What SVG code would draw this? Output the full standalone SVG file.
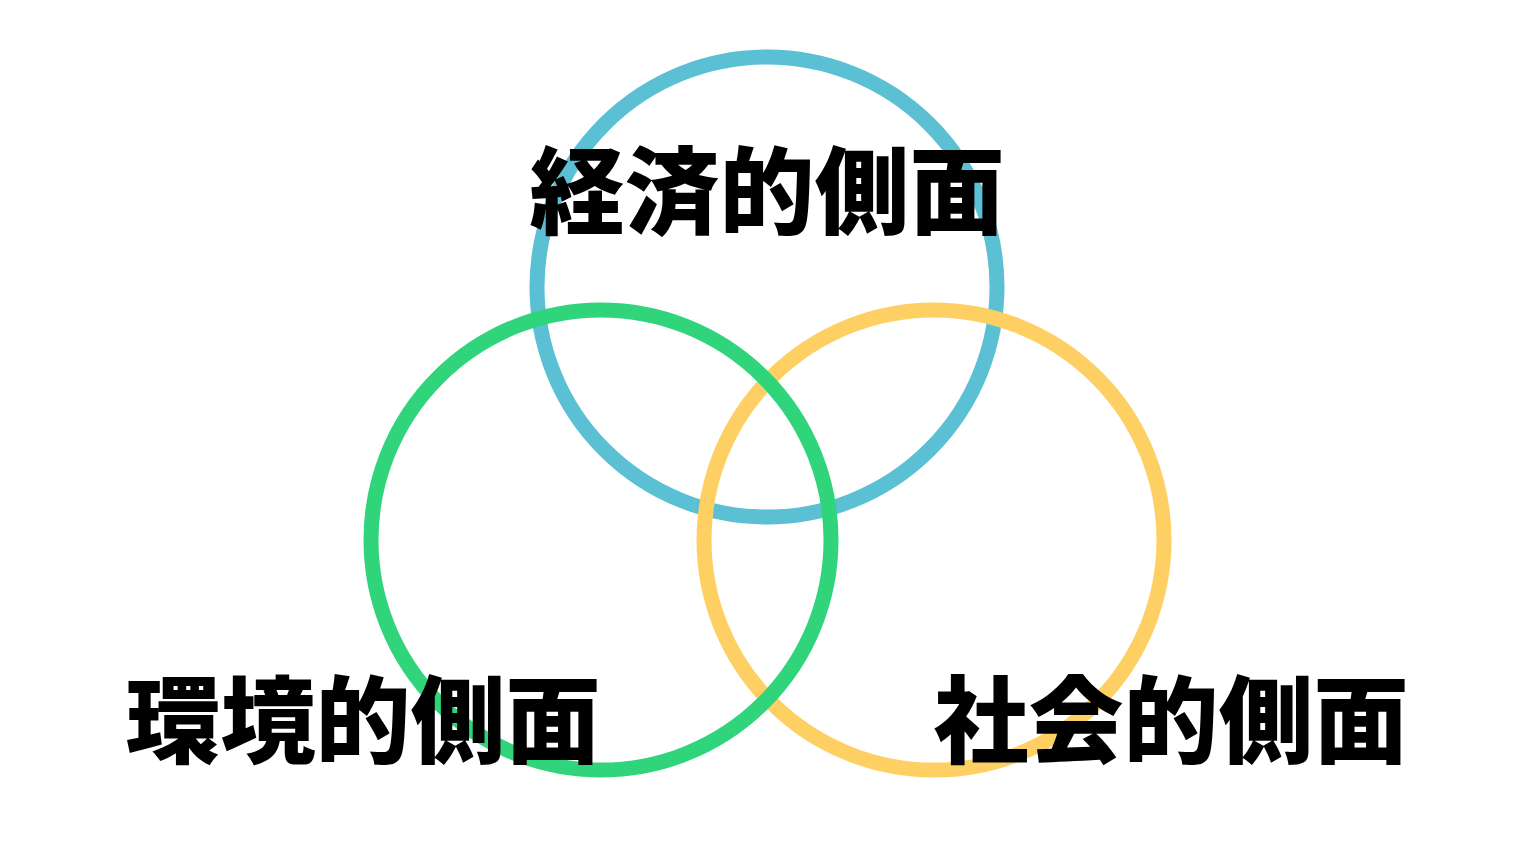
<svg xmlns="http://www.w3.org/2000/svg" width="1536" height="864" viewBox="0 0 1536 864">
<style>
.ring{fill:none;stroke-width:15}
.lbl{font-family:"Noto Sans CJK JP","Noto Sans CJK SC",sans-serif;font-weight:900;font-size:95px;fill:#000;text-anchor:middle}
</style>
<rect width="1536" height="864" fill="#fff"/>
<g id="circles">
<circle id="economic-ring" class="ring" cx="767" cy="287" r="230" stroke="#5BC0D3"/>
<circle id="social-ring" class="ring" cx="934" cy="540" r="230" stroke="#FED064"/>
<circle id="environment-ring" class="ring" cx="601" cy="540" r="230" stroke="#30D47B"/>
</g>
<g id="economic"><text class="lbl" x="767" y="227">経済的側面</text></g>
<g id="environment"><text class="lbl" x="363" y="756">環境的側面</text></g>
<g id="social"><text class="lbl" x="1171" y="756">社会的側面</text></g>
</svg>
